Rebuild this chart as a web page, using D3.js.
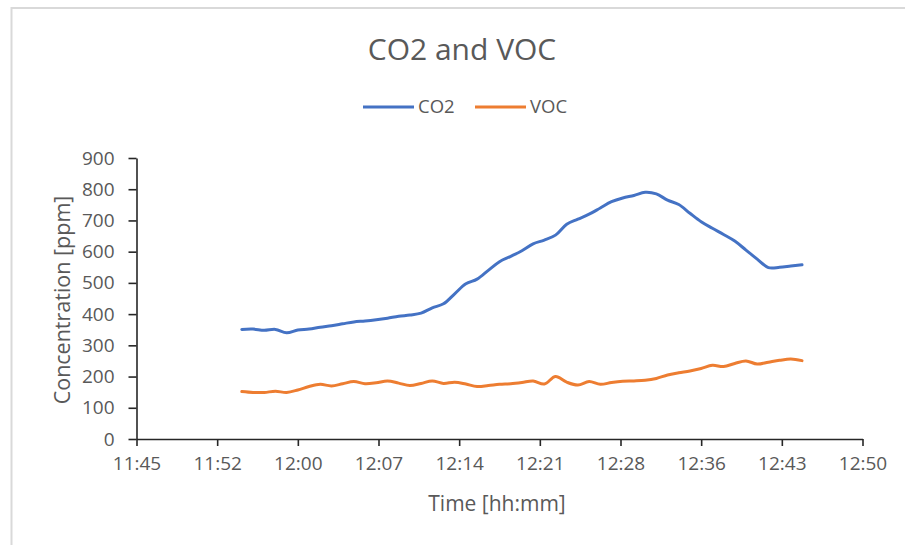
<!DOCTYPE html>
<html>
<head>
<meta charset="utf-8">
<script src="https://cdn.jsdelivr.net/npm/d3@7"></script>
<style>
  body { margin: 0; background: #fff; }
  svg text { font-family: "Open Sans", sans-serif; fill: #595959; }
</style>
</head>
<body>
<div id="chart"></div>
<script>
// one reading per minute, 11:55 .. 12:45
const startTime = "11:55";
const co2 = [351, 352, 348, 351, 340, 349, 352, 358, 363, 369,
             375, 378, 382, 387, 393, 397, 403, 420, 433, 465,
             497, 512, 540, 568, 585, 603, 625, 637, 653, 688,
             704, 720, 740, 760, 772, 780, 790, 785, 765, 751,
             723, 696, 675, 655, 634, 605, 576, 549, 550, 554, 558];
const voc = [152, 149, 149, 153, 149, 157, 168, 175, 170, 177,
             184, 177, 180, 186, 179, 171, 178, 186, 178, 182,
             176, 168, 171, 175, 177, 181, 186, 176, 200, 182,
             173, 184, 175, 181, 185, 186, 188, 194, 205, 212,
             218, 226, 236, 232, 242, 250, 240, 246, 252, 256, 251];
const seriesNames = ["CO2", "VOC"];
const seriesColors = ["#4472C4", "#ED7D31"];
// x axis in fractions of a day, like the spreadsheet
const xTicks = [0.490, 0.495, 0.500, 0.505, 0.510, 0.515, 0.520, 0.525, 0.530, 0.535];
const yTicks = [0, 100, 200, 300, 400, 500, 600, 700, 800, 900];

const W = 905, H = 545;
const margin = { left: 136.5, right: 42.5, top: 158, bottom: 106 };

const svg = d3.select("#chart").append("svg")
    .attr("width", W).attr("height", H);

// chart frame (cut off at right and bottom)
svg.append("rect")
    .attr("x", 11.5).attr("y", 8)
    .attr("width", 1000).attr("height", 1000)
    .attr("fill", "none")
    .attr("stroke", "#d9d9d9")
    .attr("stroke-width", 2);

const [h0, m0] = startTime.split(":").map(Number);
const toDay = i => (h0 * 60 + m0 + i) / 1440;

const x = d3.scaleLinear().domain([xTicks[0], xTicks[xTicks.length - 1]])
    .range([margin.left, W - margin.right]);
const y = d3.scaleLinear().domain([0, 900])
    .range([H - margin.bottom, margin.top]);

const fmtTime = d => {
    const mins = Math.floor(d * 1440 + 1e-6);
    const hh = Math.floor(mins / 60), mm = mins % 60;
    return hh + ":" + String(mm).padStart(2, "0");
};

// axes
const gx = svg.append("g")
    .attr("transform", `translate(0,${H - margin.bottom})`)
    .call(d3.axisBottom(x).tickValues(xTicks).tickFormat(fmtTime)
        .tickSize(7).tickSizeOuter(0).tickPadding(11));
const gy = svg.append("g")
    .attr("transform", `translate(${margin.left},0)`)
    .call(d3.axisLeft(y).tickValues(yTicks).tickSize(8).tickSizeOuter(0).tickPadding(14));

[gx, gy].forEach(g => {
    g.select(".domain").attr("stroke", "#262626").attr("stroke-width", 1.6);
    g.selectAll(".tick line").attr("stroke", "#262626").attr("stroke-width", 1.6);
    g.selectAll(".tick text")
        .attr("fill", "#595959")
        .style("font-family", '"Open Sans", sans-serif')
        .style("font-size", "19px");
});

// lines
const line = d3.line()
    .x((d, i) => x(toDay(i)))
    .y(d => y(d))
    .curve(d3.curveCatmullRom.alpha(0.5));

[co2, voc].forEach((vals, k) => {
    svg.append("path")
        .datum(vals)
        .attr("d", line)
        .attr("fill", "none")
        .attr("stroke", seriesColors[k])
        .attr("stroke-width", 3)
        .attr("stroke-linejoin", "round")
        .attr("stroke-linecap", "round");
});

// title
svg.append("text")
    .attr("x", 462).attr("y", 60)
    .attr("text-anchor", "middle")
    .style("font-size", "30px")
    .text("CO2 and VOC");

// legend
const legendX = [363, 475];
seriesNames.forEach((name, k) => {
    svg.append("line")
        .attr("x1", legendX[k]).attr("x2", legendX[k] + 51)
        .attr("y1", 107).attr("y2", 107)
        .attr("stroke", seriesColors[k]).attr("stroke-width", 3);
    svg.append("text")
        .attr("x", legendX[k] + 55).attr("y", 107)
        .attr("dy", "0.35em")
        .style("font-size", "18.5px")
        .text(name);
});

// axis titles
svg.append("text")
    .attr("x", 497).attr("y", 511)
    .attr("text-anchor", "middle")
    .style("font-size", "21px")
    .text("Time [hh:mm]");

svg.append("text")
    .attr("transform", "translate(62,300) rotate(-90)")
    .attr("text-anchor", "middle")
    .attr("dy", "0.35em")
    .style("font-size", "21.5px")
    .text("Concentration [ppm]");
</script>
</body>
</html>
